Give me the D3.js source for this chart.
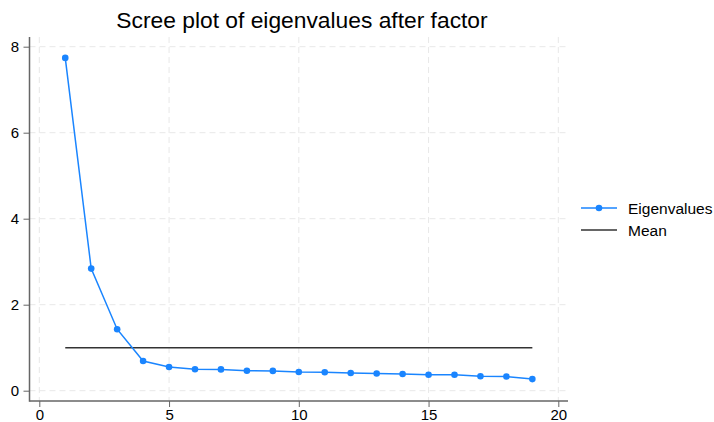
<!DOCTYPE html>
<html>
<head>
<meta charset="utf-8">
<script src="https://cdn.jsdelivr.net/npm/d3@7"></script>
<style>
  body { margin: 0; background: #fff; }
  text { font-family: "Liberation Sans", Arial, sans-serif; }
</style>
</head>
<body>
<div id="graph"></div>
<script>
// scree plot, stata-ish look

var components = d3.range(1, 20);
var eigenvalues = [7.74, 2.84, 1.43, 0.69, 0.55, 0.50, 0.495, 0.465, 0.46, 0.435,
                   0.43, 0.41, 0.40, 0.39, 0.37, 0.37, 0.335, 0.33, 0.27];
var meanValue = 1;
var xTicks = [0, 5, 10, 15, 20];
var yTicks = [0, 2, 4, 6, 8];
var seriesNames = ["Eigenvalues", "Mean"];

var width = 714, height = 422;
var blue = "#1a85ff";

var svg = d3.select("#graph").append("svg")
    .attr("width", width)
    .attr("height", height);

var x = d3.scaleLinear().domain([0, 20]).range([39.3, 558.3]);
var y = d3.scaleLinear().domain([0, 8]).range([390.7, 46.7]);

var plotLeft = 29.5, plotRight = 568, plotTop = 37, plotBottom = 401;

// grid
var grid = svg.append("g").attr("stroke", "#e8e8e8").attr("stroke-dasharray", "6,4");
grid.selectAll(".vg").data(xTicks).enter().append("line")
    .attr("x1", d => x(d)).attr("x2", d => x(d))
    .attr("y1", plotTop).attr("y2", plotBottom);
grid.selectAll(".hg").data(yTicks).enter().append("line")
    .attr("x1", plotLeft).attr("x2", plotRight)
    .attr("y1", d => y(d)).attr("y2", d => y(d));

// axes
var xAxis = svg.append("g")
    .attr("transform", "translate(0," + plotBottom + ")")
    .call(d3.axisBottom(x).tickValues(xTicks).tickSize(6).tickPadding(2.5));
xAxis.select(".domain").attr("d", "M" + plotLeft + ",0H" + plotRight);

var yAxis = svg.append("g")
    .attr("transform", "translate(" + plotLeft + ",0)")
    .call(d3.axisLeft(y).tickValues(yTicks).tickSize(6).tickPadding(4.5));
yAxis.select(".domain").attr("d", "M0," + plotTop + "V" + (plotBottom + 0.75));

svg.selectAll(".domain").attr("stroke", "#666").attr("stroke-width", 1.5);
svg.selectAll(".tick line").attr("stroke", "#666");
svg.selectAll(".tick text").attr("font-size", 15).attr("fill", "#000")
    .attr("font-family", "Liberation Sans, Arial, sans-serif");

// mean line
svg.append("line")
    .attr("x1", x(components[0])).attr("x2", x(components[components.length - 1]))
    .attr("y1", y(meanValue)).attr("y2", y(meanValue))
    .attr("stroke", "#333").attr("stroke-width", 1.5);

// eigenvalue line + points
var line = d3.line().x((d, i) => x(components[i])).y(d => y(d));
svg.append("path").datum(eigenvalues)
    .attr("d", line)
    .attr("fill", "none")
    .attr("stroke", blue)
    .attr("stroke-width", 1.5);

svg.selectAll(".pt").data(eigenvalues).enter().append("circle")
    .attr("cx", (d, i) => x(components[i]))
    .attr("cy", d => y(d))
    .attr("r", 3.3)
    .attr("fill", blue);

// title
svg.append("text")
    .attr("x", 302).attr("y", 28)
    .attr("text-anchor", "middle")
    .attr("font-size", 22.8)
    .text("Scree plot of eigenvalues after factor");

// legend
var legend = svg.append("g");
legend.append("line").attr("x1", 581).attr("x2", 617).attr("y1", 208).attr("y2", 208)
    .attr("stroke", blue).attr("stroke-width", 1.5);
legend.append("circle").attr("cx", 599).attr("cy", 208).attr("r", 3.3).attr("fill", blue);
legend.append("line").attr("x1", 581).attr("x2", 617).attr("y1", 230).attr("y2", 230)
    .attr("stroke", "#333").attr("stroke-width", 1.5);
legend.selectAll(".lt").data(seriesNames).enter().append("text")
    .attr("x", 628).attr("y", (d, i) => 208 + i * 22 + 5.5)
    .attr("font-size", 15.5)
    .text(d => d);
</script>
</body>
</html>
